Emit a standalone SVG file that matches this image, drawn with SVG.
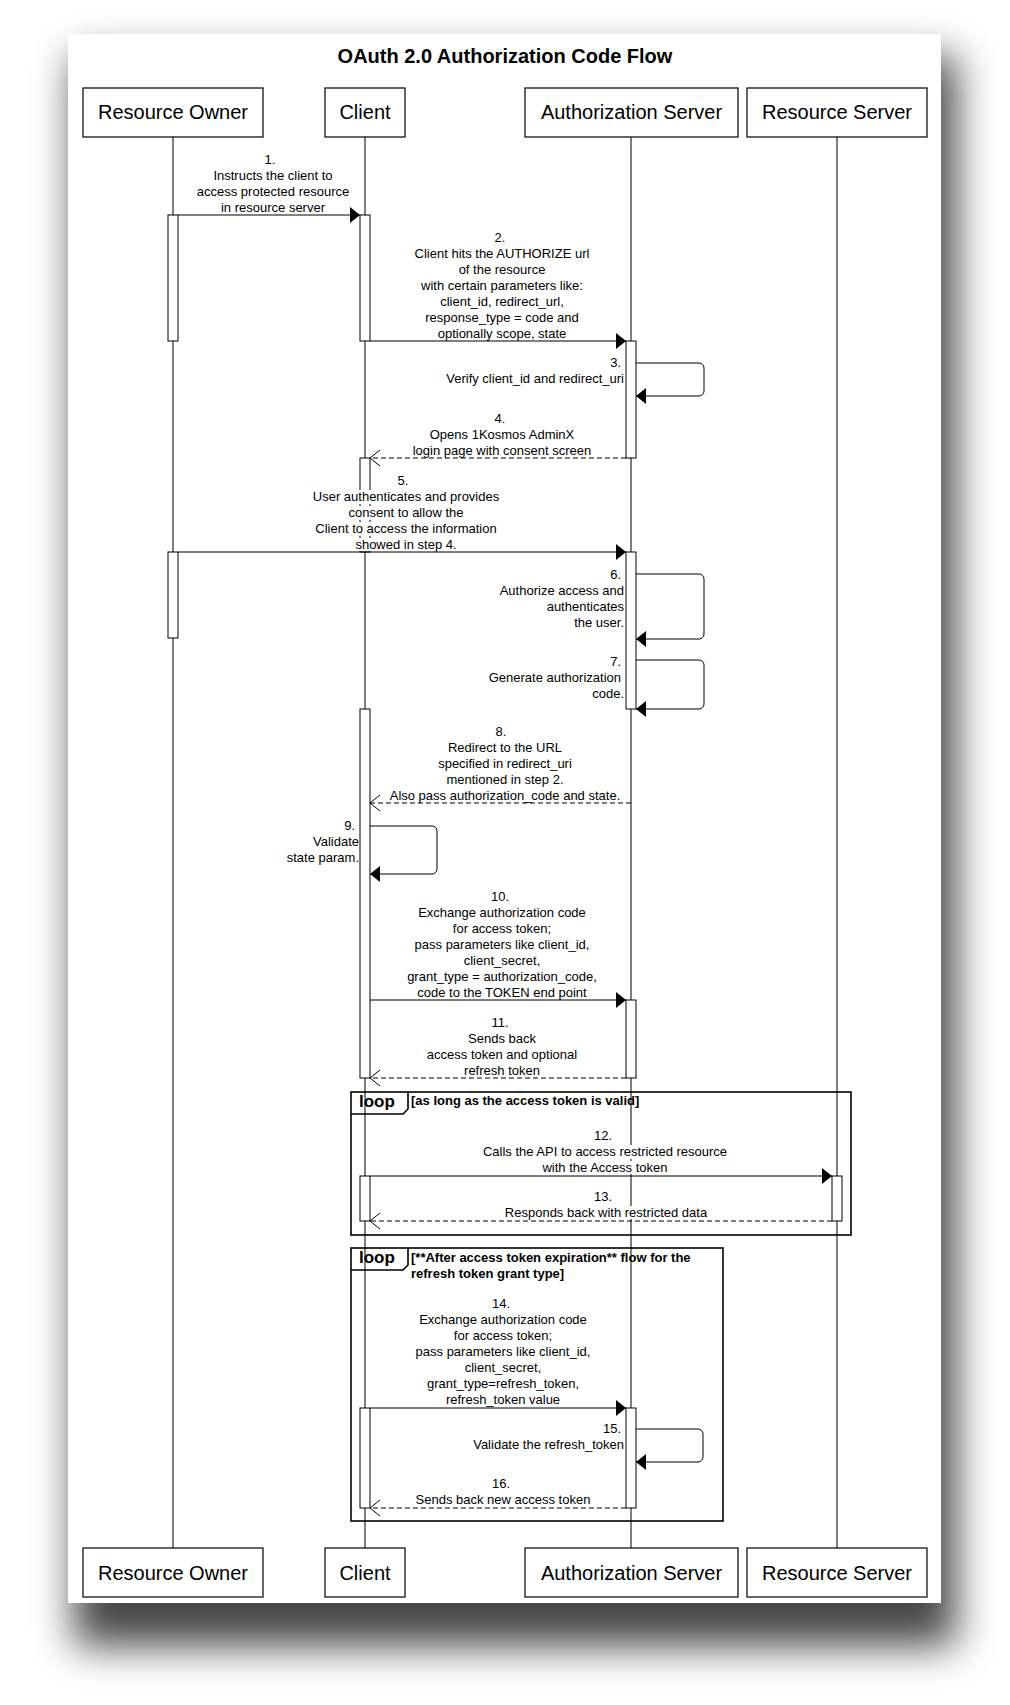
<svg xmlns="http://www.w3.org/2000/svg" width="1010" height="1705" viewBox="0 0 1010 1705">
<style>
text{font-family:"Liberation Sans",Arial,sans-serif;fill:#000}
.m{font-size:13px}
.c{text-anchor:middle}
.r{text-anchor:end}
.pt{font-size:20px;text-anchor:middle}
.title{font-size:20px;font-weight:bold;text-anchor:middle}
.lt{font-size:17px;font-weight:bold}
.cond{font-size:13px;font-weight:bold}
.ln{stroke:#000;stroke-width:1;fill:none}
.dash{stroke-dasharray:5 3}
.bar{fill:#fff;stroke:#000;stroke-width:1}
.box{fill:#fff;stroke:#000;stroke-width:1.2}
.frame{fill:none;stroke:#000;stroke-width:1.6}
.bg{fill:#fff}
</style>
<defs>
<filter id="sh" filterUnits="userSpaceOnUse" x="0" y="0" width="1010" height="1705">
<feGaussianBlur stdDeviation="20"/>
</filter>
<marker id="af" markerUnits="userSpaceOnUse" viewBox="0 0 10 16" refX="10" refY="8" markerWidth="10" markerHeight="16" orient="auto">
<path d="M0,0 L10,8 L0,16 Z" fill="#000"/>
</marker>
<marker id="ao" markerUnits="userSpaceOnUse" viewBox="-1 -1 12 18" refX="10" refY="8" markerWidth="12" markerHeight="18" orient="auto">
<path d="M0,0 L10,8 L0,16" fill="none" stroke="#000" stroke-width="1"/>
</marker>
</defs>
<rect x="0" y="0" width="1010" height="1705" fill="#fff"/>
<rect x="74" y="56" width="882" height="1590" fill="#000" opacity="0.72" filter="url(#sh)"/>
<rect x="68" y="34" width="873" height="1569" fill="#fff"/>
<text class="title" x="505" y="63">OAuth 2.0 Authorization Code Flow</text>

<g id="loops">
<g id="loop1">
<rect class="frame" x="351" y="1092" width="500" height="143"/>
<path class="frame" d="M351,1114 H403 L408,1109 V1092"/>
<text class="lt" x="359" y="1107">loop</text>
<text class="cond" x="411" y="1105">[as long as the access token is valid]</text>
</g>
<g id="loop2">
<rect class="frame" x="351" y="1248" width="372" height="273"/>
<path class="frame" d="M351,1270 H403 L408,1265 V1248"/>
<text class="lt" x="359" y="1263">loop</text>
<text class="cond" x="411" y="1262">[**After access token expiration** flow for the</text>
<text class="cond" x="411" y="1278">refresh token grant type]</text>
</g>
</g>

<g id="lifelines">
<line class="ln" x1="173" y1="137" x2="173" y2="1548"/>
<line class="ln" x1="365" y1="137" x2="365" y2="1548"/>
<line class="ln" x1="631" y1="137" x2="631" y2="1548"/>
<line class="ln" x1="837" y1="137" x2="837" y2="1548"/>
</g>

<g id="activations">
<rect class="bar" x="168" y="215" width="10" height="126"/>
<rect class="bar" x="168" y="552" width="10" height="86"/>
<rect class="bar" x="360" y="215" width="10" height="126"/>
<rect class="bar" x="360" y="458" width="10" height="94"/>
<rect class="bar" x="360" y="709" width="10" height="369"/>
<rect class="bar" x="360" y="1176" width="10" height="45"/>
<rect class="bar" x="360" y="1408" width="10" height="100"/>
<rect class="bar" x="626" y="341" width="10" height="117"/>
<rect class="bar" x="626" y="552" width="10" height="157"/>
<rect class="bar" x="626" y="1000" width="10" height="78"/>
<rect class="bar" x="626" y="1408" width="10" height="100"/>
<rect class="bar" x="832" y="1176" width="10" height="45"/>
</g>

<g id="connectors">
<path class="ln" d="M178,215 H360" marker-end="url(#af)"/>
<path class="ln" d="M370,341 H626" marker-end="url(#af)"/>
<path class="ln" d="M636,363 H699 A5,5 0 0 1 704,368 V391 A5,5 0 0 1 699,396 H636" marker-end="url(#af)"/>
<path class="ln dash" d="M626,458 H370" marker-end="url(#ao)"/>
<path class="ln" d="M178,552 H626" marker-end="url(#af)"/>
<path class="ln" d="M636,574 H699 A5,5 0 0 1 704,579 V634 A5,5 0 0 1 699,639 H636" marker-end="url(#af)"/>
<path class="ln" d="M636,660 H699 A5,5 0 0 1 704,665 V704 A5,5 0 0 1 699,709 H636" marker-end="url(#af)"/>
<path class="ln dash" d="M631,803 H370" marker-end="url(#ao)"/>
<path class="ln" d="M370,826 H432 A5,5 0 0 1 437,831 V869 A5,5 0 0 1 432,874 H370" marker-end="url(#af)"/>
<path class="ln" d="M370,1000 H626" marker-end="url(#af)"/>
<path class="ln dash" d="M626,1078 H370" marker-end="url(#ao)"/>
<path class="ln" d="M370,1176 H832" marker-end="url(#af)"/>
<path class="ln dash" d="M832,1221 H370" marker-end="url(#ao)"/>
<path class="ln" d="M370,1408 H626" marker-end="url(#af)"/>
<path class="ln" d="M636,1429 H698 A5,5 0 0 1 703,1434 V1457 A5,5 0 0 1 698,1462 H636" marker-end="url(#af)"/>
<path class="ln dash" d="M626,1508 H370" marker-end="url(#ao)"/>
</g>

<g id="labels" class="m">
<g id="msg1">
<text class="m c" x="270" y="164">1.</text>
<text class="m c" x="273" y="180">Instructs the client to</text>
<text class="m c" x="273" y="196">access protected resource</text>
<text class="m c" x="273" y="212">in resource server</text>
</g>
<g id="msg2">
<text class="m c" x="500" y="242">2.</text>
<text class="m c" x="502" y="258">Client hits the AUTHORIZE url</text>
<text class="m c" x="502" y="274">of the resource</text>
<text class="m c" x="502" y="290">with certain parameters like:</text>
<text class="m c" x="502" y="306">client_id, redirect_url,</text>
<text class="m c" x="502" y="322">response_type = code and</text>
<text class="m c" x="502" y="338">optionally scope, state</text>
</g>
<g id="msg3">
<text class="m r" x="621" y="367">3.</text>
<text class="m r" x="624" y="383">Verify client_id and redirect_uri</text>
</g>
<g id="msg4">
<text class="m c" x="500" y="423">4.</text>
<text class="m c" x="502" y="439">Opens 1Kosmos AdminX</text>
<text class="m c" x="502" y="455">login page with consent screen</text>
</g>
<g id="msg5">
<rect class="bg" x="311" y="490" width="191" height="14"/>
<rect class="bg" x="342" y="506" width="121" height="14"/>
<rect class="bg" x="312" y="522" width="189" height="14"/>
<rect class="bg" x="354" y="538" width="106" height="13"/>
<text class="m c" x="403" y="485">5.</text>
<text class="m c" x="406" y="501">User authenticates and provides</text>
<text class="m c" x="406" y="517">consent to allow the</text>
<text class="m c" x="406" y="533">Client to access the information</text>
<text class="m c" x="406" y="549">showed in step 4.</text>
</g>
<g id="msg6">
<text class="m r" x="621" y="579">6.</text>
<text class="m r" x="624" y="595">Authorize access and</text>
<text class="m r" x="624" y="611">authenticates</text>
<text class="m r" x="624" y="627">the user.</text>
</g>
<g id="msg7">
<text class="m r" x="621" y="666">7.</text>
<text class="m r" x="621" y="682">Generate authorization</text>
<text class="m r" x="624" y="698">code.</text>
</g>
<g id="msg8">
<text class="m c" x="501" y="736">8.</text>
<text class="m c" x="505" y="752">Redirect to the URL</text>
<text class="m c" x="505" y="768">specified in redirect_uri</text>
<text class="m c" x="505" y="784">mentioned in step 2.</text>
<text class="m c" x="505" y="800">Also pass authorization_code and state.</text>
</g>
<g id="msg9">
<text class="m r" x="355" y="830">9.</text>
<text class="m r" x="359" y="846">Validate</text>
<text class="m r" x="359" y="862">state param.</text>
</g>
<g id="msg10">
<text class="m c" x="500" y="901">10.</text>
<text class="m c" x="502" y="917">Exchange authorization code</text>
<text class="m c" x="502" y="933">for access token;</text>
<text class="m c" x="502" y="949">pass parameters like client_id,</text>
<text class="m c" x="502" y="965">client_secret,</text>
<text class="m c" x="502" y="981">grant_type = authorization_code,</text>
<text class="m c" x="502" y="997">code to the TOKEN end point</text>
</g>
<g id="msg11">
<text class="m c" x="500" y="1027">11.</text>
<text class="m c" x="502" y="1043">Sends back</text>
<text class="m c" x="502" y="1059">access token and optional</text>
<text class="m c" x="502" y="1075">refresh token</text>
</g>
<g id="msg12">
<rect class="bg" x="478" y="1145" width="255" height="14"/>
<rect class="bg" x="537" y="1161" width="135" height="13"/>
<text class="m c" x="603" y="1140">12.</text>
<text class="m c" x="605" y="1156">Calls the API to access restricted resource</text>
<text class="m c" x="605" y="1172">with the Access token</text>
</g>
<g id="msg13">
<rect class="bg" x="501" y="1206" width="210" height="13"/>
<text class="m c" x="603" y="1201">13.</text>
<text class="m c" x="606" y="1217">Responds back with restricted data</text>
</g>
<g id="msg14">
<text class="m c" x="501" y="1308">14.</text>
<text class="m c" x="503" y="1324">Exchange authorization code</text>
<text class="m c" x="503" y="1340">for access token;</text>
<text class="m c" x="503" y="1356">pass parameters like client_id,</text>
<text class="m c" x="503" y="1372">client_secret,</text>
<text class="m c" x="503" y="1388">grant_type=refresh_token,</text>
<text class="m c" x="503" y="1404">refresh_token value</text>
</g>
<g id="msg15">
<text class="m r" x="621" y="1433">15.</text>
<text class="m r" x="624" y="1449">Validate the refresh_token</text>
</g>
<g id="msg16">
<text class="m c" x="501" y="1488">16.</text>
<text class="m c" x="503" y="1504">Sends back new access token</text>
</g>
</g>

<g id="participants">
<g id="p-resource-owner">
<rect class="box" x="83" y="88" width="180" height="49"/>
<text class="pt" x="173" y="119">Resource Owner</text>
<rect class="box" x="83" y="1548" width="180" height="49"/>
<text class="pt" x="173" y="1580">Resource Owner</text>
</g>
<g id="p-client">
<rect class="box" x="325" y="88" width="80" height="49"/>
<text class="pt" x="365" y="119">Client</text>
<rect class="box" x="325" y="1548" width="80" height="49"/>
<text class="pt" x="365" y="1580">Client</text>
</g>
<g id="p-authorization-server">
<rect class="box" x="525" y="88" width="213" height="49"/>
<text class="pt" x="631.5" y="119">Authorization Server</text>
<rect class="box" x="525" y="1548" width="213" height="49"/>
<text class="pt" x="631.5" y="1580">Authorization Server</text>
</g>
<g id="p-resource-server">
<rect class="box" x="747" y="88" width="180" height="49"/>
<text class="pt" x="837" y="119">Resource Server</text>
<rect class="box" x="747" y="1548" width="180" height="49"/>
<text class="pt" x="837" y="1580">Resource Server</text>
</g>
</g>
</svg>
